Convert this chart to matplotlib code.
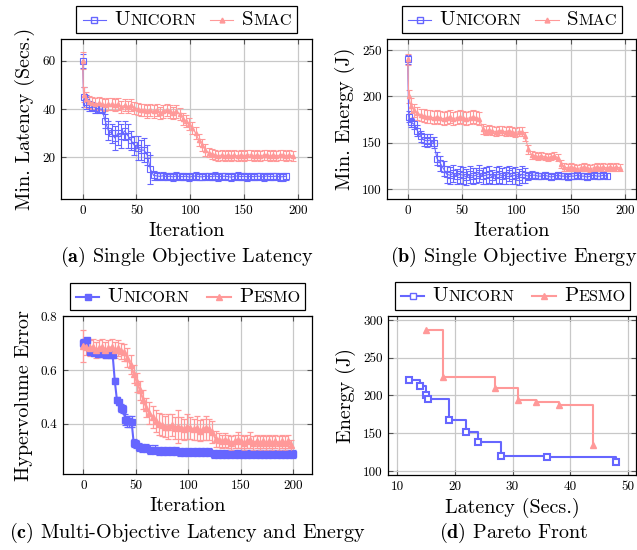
import matplotlib
matplotlib.use("Agg")
import matplotlib.pyplot as plt
from matplotlib.offsetbox import AnchoredOffsetbox, HPacker, TextArea, DrawingArea
from matplotlib.lines import Line2D

plt.rcParams['font.family'] = ['cmr10', 'DejaVu Serif']
plt.rcParams['mathtext.fontset'] = 'cm'
plt.rcParams['axes.unicode_minus'] = False

BLUE = '#6666ff'
RED = '#ff9999'

# (a) single objective latency
ua_it = [0, 1] + list(range(3, 190, 3))
ua_lat = [60, 45, 43, 42, 41, 40.5, 40, 40, 35, 31,
          30, 28, 30, 29, 31, 29, 27, 25, 24, 23,
          23, 21, 15, 12.5, 12.3, 12.1, 12.4, 12.0, 12.2, 11.9,
          12.3, 12.1, 12.0, 12.2, 11.8, 12.1, 12.3, 12.0, 11.9, 12.2,
          12.1, 12.0, 12.3, 11.9, 12.1, 12.2, 12.0, 11.8, 12.1, 12.3,
          12.0, 12.2, 11.9, 12.1, 12.0, 12.2, 12.1, 11.9, 12.3, 12.0,
          12.1, 12.2, 11.9, 12.0, 12.2]
ua_err = [3, 4, 3, 3, 2, 2, 1.5, 1.5, 3, 4,
          4, 5, 5, 5, 4, 5, 4, 4, 5, 4,
          5, 4, 6, 2, 1.5, 1.4, 1.6, 1.5, 1.3, 1.5,
          1.5, 1.6, 1.4, 1.5, 1.5, 1.3, 1.6, 1.5, 1.4, 1.5,
          1.5, 1.4, 1.6, 1.5, 1.5, 1.3, 1.5, 1.6, 1.4, 1.5,
          1.5, 1.4, 1.6, 1.5, 1.3, 1.5, 1.5, 1.6, 1.4, 1.5,
          1.5, 1.4, 1.5, 1.6, 1.5]
sa_it = [0, 1] + list(range(3, 196, 3))
sa_lat = [60, 46, 44, 43, 42.5, 42, 42.5, 42, 41.5, 42,
          42, 41.5, 42, 41, 41.5, 41, 41.5, 40.5, 40, 39.5,
          39.5, 39, 39.5, 39, 39.5, 38.5, 39, 39.5, 39, 38.5,
          39, 38, 36, 35, 34, 32, 30, 27, 25, 23,
          22, 21.5, 21, 20.5, 21, 20.5, 21, 20.5, 21, 20.5,
          21, 20.5, 21, 21, 20.5, 21, 20.5, 21, 21, 20.5,
          21, 20.5, 21, 21, 20.5, 21, 20.5]
sa_err = [3.5, 3, 3, 2.5, 2.5, 2.5, 2.5, 2.5, 2.5, 2.5,
          2.5, 2.5, 2.5, 2.5, 2.5, 2.5, 2.5, 2.5, 2.5, 2.5,
          2.5, 2.5, 2.5, 2.5, 2.5, 2.5, 2.5, 2.5, 2.5, 2.5,
          2.5, 2.5, 2.5, 2.5, 2.5, 2.5, 2.5, 2.5, 2.5, 2.5,
          2, 2, 2, 2, 2, 2, 2, 2, 2, 2,
          2, 2, 2, 2, 2, 2, 2, 2, 2, 2,
          2, 2, 2, 2, 2, 2, 2]

# (b) single objective energy
ub_it = [0, 1] + list(range(3, 184, 3))
ub_en = [240, 178, 172, 170, 163, 157, 153, 152, 153, 150,
         133, 128, 122, 116, 115, 117, 114, 116, 115, 113,
         116, 114, 115, 117, 114, 115, 116, 113, 115, 116,
         114, 115, 117, 114, 115, 113, 116, 115, 114, 115,
         115, 114, 114, 115, 114, 113, 114, 115, 114, 114,
         113, 114, 114, 115, 114, 114, 113, 114, 115, 114,
         114, 115, 114]
ub_err = [5, 6, 5, 5, 6, 6, 7, 7, 7, 6,
          7, 8, 8, 9, 9, 9, 8, 9, 9, 9,
          9, 9, 8, 9, 9, 9, 9, 8, 9, 9,
          9, 9, 8, 9, 9, 9, 9, 8, 4, 4,
          3.5, 3.5, 3.5, 3.5, 3.5, 3.5, 3.5, 3.5, 3.5, 3.5,
          3.5, 3.5, 3.5, 3.5, 3.5, 3.5, 3.5, 3.5, 3.5, 3.5,
          3.5, 3.5, 3.5]
sb_it = [0, 1] + list(range(3, 196, 3))
sb_en = [240, 200, 190, 185, 182, 180, 179, 178, 178, 177,
         178, 177, 176, 177, 178, 176, 177, 178, 177, 176,
         177, 178, 177, 176, 165, 163, 164, 163, 162, 163,
         163, 162, 163, 162, 161, 162, 162, 157, 143, 137,
         136, 135, 136, 135, 134, 135, 136, 134, 127, 124,
         123, 124, 123, 122, 123, 124, 123, 122, 123, 124,
         123, 124, 123, 124, 123, 124, 123]
sb_err = [6, 7, 8, 7, 7, 7, 7, 7, 7, 7,
          7, 7, 7, 7, 7, 7, 7, 7, 7, 7,
          7, 7, 7, 7, 5, 5, 5, 5, 5, 5,
          5, 5, 5, 5, 5, 5, 5, 5, 5, 4,
          4, 4, 4, 4, 4, 4, 4, 4, 4, 4,
          4, 4, 4, 4, 4, 4, 4, 4, 4, 4,
          4, 4, 4, 4, 4, 4, 4]

# (c) hypervolume error
uc_it = [0, 2, 4, 6, 10, 14, 18, 22, 26, 28, 30, 32, 34, 36, 38, 40, 42, 44, 46, 48,
         50, 53, 56, 60, 64, 68, 72, 76, 80, 84, 88, 92, 96, 100, 104, 108, 112, 116, 120, 124,
         128, 132, 136, 140, 144, 148, 152, 156, 160, 164, 168, 172, 176, 180, 184, 188, 192, 196, 200]
uc_hv = [0.70, 0.705, 0.71, 0.665, 0.663, 0.66, 0.658, 0.657, 0.656, 0.655,
         0.56, 0.49, 0.48, 0.46, 0.455, 0.415, 0.41, 0.41, 0.408, 0.33,
         0.325, 0.315, 0.31, 0.31, 0.305, 0.305, 0.30, 0.30, 0.30, 0.298,
         0.298, 0.297, 0.297, 0.296, 0.296, 0.295, 0.295, 0.295, 0.295, 0.29,
         0.29, 0.29, 0.29, 0.29, 0.29, 0.29, 0.29, 0.29, 0.29, 0.29,
         0.29, 0.29, 0.29, 0.29, 0.29, 0.29, 0.29, 0.29, 0.29]
uc_err = [0.015, 0.01, 0.01, 0.005, 0.005, 0.005, 0.005, 0.005, 0.005, 0.005,
          0.01, 0.01, 0.01, 0.015, 0.015, 0.02, 0.02, 0.02, 0.02, 0.015,
          0.015, 0.015, 0.015, 0.015, 0.015, 0.015, 0.015, 0.015, 0.015, 0.015,
          0.015, 0.015, 0.015, 0.015, 0.015, 0.015, 0.015, 0.015, 0.015, 0.015,
          0.015, 0.015, 0.015, 0.015, 0.015, 0.015, 0.015, 0.015, 0.015, 0.015,
          0.015, 0.015, 0.015, 0.015, 0.015, 0.015, 0.015, 0.015, 0.015]
pc_it = list(range(0, 199, 3))
pc_hv = [0.69, 0.685, 0.68, 0.685, 0.675, 0.68, 0.685, 0.675, 0.68, 0.685,
         0.675, 0.68, 0.67, 0.665, 0.645, 0.62, 0.585, 0.555, 0.525, 0.49,
         0.46, 0.44, 0.425, 0.41, 0.40, 0.395, 0.39, 0.39, 0.395, 0.385,
         0.39, 0.385, 0.38, 0.39, 0.385, 0.38, 0.385, 0.375, 0.38, 0.385,
         0.38, 0.37, 0.345, 0.34, 0.335, 0.34, 0.335, 0.33, 0.335, 0.34,
         0.335, 0.33, 0.335, 0.34, 0.33, 0.335, 0.33, 0.335, 0.33, 0.335,
         0.33, 0.335, 0.33, 0.335, 0.33, 0.335, 0.32]
pc_err = [0.06, 0.03, 0.03, 0.03, 0.03, 0.03, 0.03, 0.03, 0.03, 0.03,
          0.03, 0.03, 0.03, 0.03, 0.035, 0.035, 0.035, 0.035, 0.035, 0.035,
          0.035, 0.04, 0.04, 0.04, 0.04, 0.04, 0.04, 0.045, 0.04, 0.04,
          0.06, 0.04, 0.04, 0.045, 0.04, 0.04, 0.045, 0.04, 0.04, 0.045,
          0.04, 0.04, 0.03, 0.025, 0.025, 0.025, 0.025, 0.025, 0.025, 0.03,
          0.025, 0.025, 0.025, 0.03, 0.025, 0.025, 0.025, 0.025, 0.025, 0.025,
          0.025, 0.025, 0.025, 0.025, 0.025, 0.025, 0.02]

# (d) pareto front
ud_lat = [12, 14, 15, 15.3, 19, 22, 24, 28, 36, 48]
ud_en = [220, 213, 201, 196, 168, 152, 138, 120, 118, 112]
pd_lat = [15, 18, 27, 31, 34, 38, 44]
pd_en = [287, 224, 210, 194, 191, 188, 134]


def style(ax, xl, yl, xt, yt):
    ax.set_xlim(*xl)
    ax.set_ylim(*yl)
    ax.set_xticks(xt)
    ax.set_yticks(yt)
    ax.grid(True, color='#c8c8c8', lw=0.9)
    ax.set_axisbelow(True)
    ax.tick_params(direction='in', top=True, right=True, length=3.5,
                   width=0.8, color='#555555', labelsize=9.5, pad=4)
    for s in ax.spines.values():
        s.set_linewidth(0.9)


def sc_text(word, big=15, small=11.6):
    return HPacker(children=[TextArea(word[0], textprops=dict(fontsize=big)),
                             TextArea(word[1:].upper(), textprops=dict(fontsize=small))],
                   align='baseline', pad=0, sep=0)


def sc_legend(ax, entries, lw, sep):
    kids = []
    for name, c, m, ms, mfc in entries:
        da = DrawingArea(19, 8, 0, 0)
        da.add_artist(Line2D([1, 9.5, 18], [4, 4, 4], color=c, lw=lw, marker=m,
                             ms=ms, mfc=mfc, mec=c, markevery=[1]))
        kids.append(HPacker(children=[da, sc_text(name)], align='center', pad=0, sep=5))
    box = AnchoredOffsetbox(loc='lower center',
                            child=HPacker(children=kids, align='center', pad=0, sep=sep),
                            pad=0.35, borderpad=0, frameon=True,
                            bbox_to_anchor=(0.5, 1.035), bbox_transform=ax.transAxes)
    box.patch.set_boxstyle('square', pad=0)
    box.patch.set_edgecolor('black')
    box.patch.set_linewidth(0.9)
    ax.add_artist(box)


fig = plt.figure(figsize=(6.37, 5.5), dpi=100)
ax_a = fig.add_axes([0.0958, 0.638, 0.394, 0.291])
ax_b = fig.add_axes([0.608, 0.638, 0.3905, 0.291])
ax_c = fig.add_axes([0.0984, 0.1376, 0.3918, 0.2878])
ax_d = fig.add_axes([0.6096, 0.1364, 0.3895, 0.2896])

eb = dict(lw=0.8, elinewidth=0.8, capsize=2.2, capthick=0.8)

ax_a.errorbar(ua_it, ua_lat, yerr=ua_err, color=BLUE, marker='s', ms=4, mfc='none', mew=0.8, **eb)
ax_a.errorbar(sa_it, sa_lat, yerr=sa_err, color=RED, marker='^', ms=3, **eb)
style(ax_a, (-20, 213), (2.7, 69), [0, 50, 100, 150, 200], [20, 40, 60])
ax_a.set_xlabel('Iteration', fontsize=14.5, labelpad=4)
ax_a.set_ylabel('Min. Latency (Secs.)', fontsize=14.5, labelpad=5)
sc_legend(ax_a, [('Unicorn', BLUE, 's', 4, 'none'), ('Smac', RED, '^', 3.5, RED)], 0.8, 9)

ax_b.errorbar(ub_it, ub_en, yerr=ub_err, color=BLUE, marker='s', ms=4, mfc='none', mew=0.8, **eb)
ax_b.errorbar(sb_it, sb_en, yerr=sb_err, color=RED, marker='^', ms=3, **eb)
style(ax_b, (-18.7, 210), (89.2, 262), [0, 50, 100, 150, 200], [100, 150, 200, 250])
ax_b.set_xlabel('Iteration', fontsize=14.5, labelpad=4)
ax_b.set_ylabel('Min. Energy (J)', fontsize=14.5, labelpad=5)
sc_legend(ax_b, [('Unicorn', BLUE, 's', 4, 'none'), ('Smac', RED, '^', 3.5, RED)], 0.8, 9)

eb2 = dict(lw=1.5, elinewidth=0.9, capsize=2.2, capthick=0.9)
ax_c.errorbar(uc_it, uc_hv, yerr=uc_err, color=BLUE, marker='s', ms=5, **eb2)
ax_c.errorbar(pc_it, pc_hv, yerr=pc_err, color=RED, marker='^', ms=4, **eb2)
style(ax_c, (-19.6, 218), (0.213, 0.8), [0, 50, 100, 150, 200], [0.4, 0.6, 0.8])
ax_c.set_xlabel('Iteration', fontsize=14.5, labelpad=4)
ax_c.set_ylabel('Hypervolume Error', fontsize=14.5, labelpad=5)
sc_legend(ax_c, [('Unicorn', BLUE, 's', 5, BLUE), ('Pesmo', RED, '^', 5, RED)], 1.5, 12)

ax_d.step(ud_lat, ud_en, where='post', color=BLUE, lw=1.5)
ax_d.plot(ud_lat, ud_en, ls='none', marker='s', ms=4.5, mfc='white', mec=BLUE, mew=1.5)
ax_d.step(pd_lat, pd_en, where='post', color=RED, lw=1.5)
ax_d.plot(pd_lat, pd_en, ls='none', marker='^', ms=5, color=RED)
style(ax_d, (8.44, 51.5), (94.7, 305.7), [10, 20, 30, 40, 50], [100, 150, 200, 250, 300])
ax_d.set_xlabel('Latency (Secs.)', fontsize=14.5, labelpad=4)
ax_d.set_ylabel('Energy (J)', fontsize=14.5, labelpad=5)
sc_legend(ax_d, [('Unicorn', BLUE, 's', 4.5, 'white'), ('Pesmo', RED, '^', 5, RED)], 1.5, 12)

fig.text(0.293, 0.533, r'($\mathbf{a}$) Single Objective Latency', ha='center', va='center', fontsize=14.5)
fig.text(0.806, 0.533, r'($\mathbf{b}$) Single Objective Energy', ha='center', va='center', fontsize=14.5)
fig.text(0.295, 0.031, r'($\mathbf{c}$) Multi-Objective Latency and Energy', ha='center', va='center', fontsize=14.5)
fig.text(0.806, 0.031, r'($\mathbf{d}$) Pareto Front', ha='center', va='center', fontsize=14.5)

fig.savefig('out.png', dpi=100)
